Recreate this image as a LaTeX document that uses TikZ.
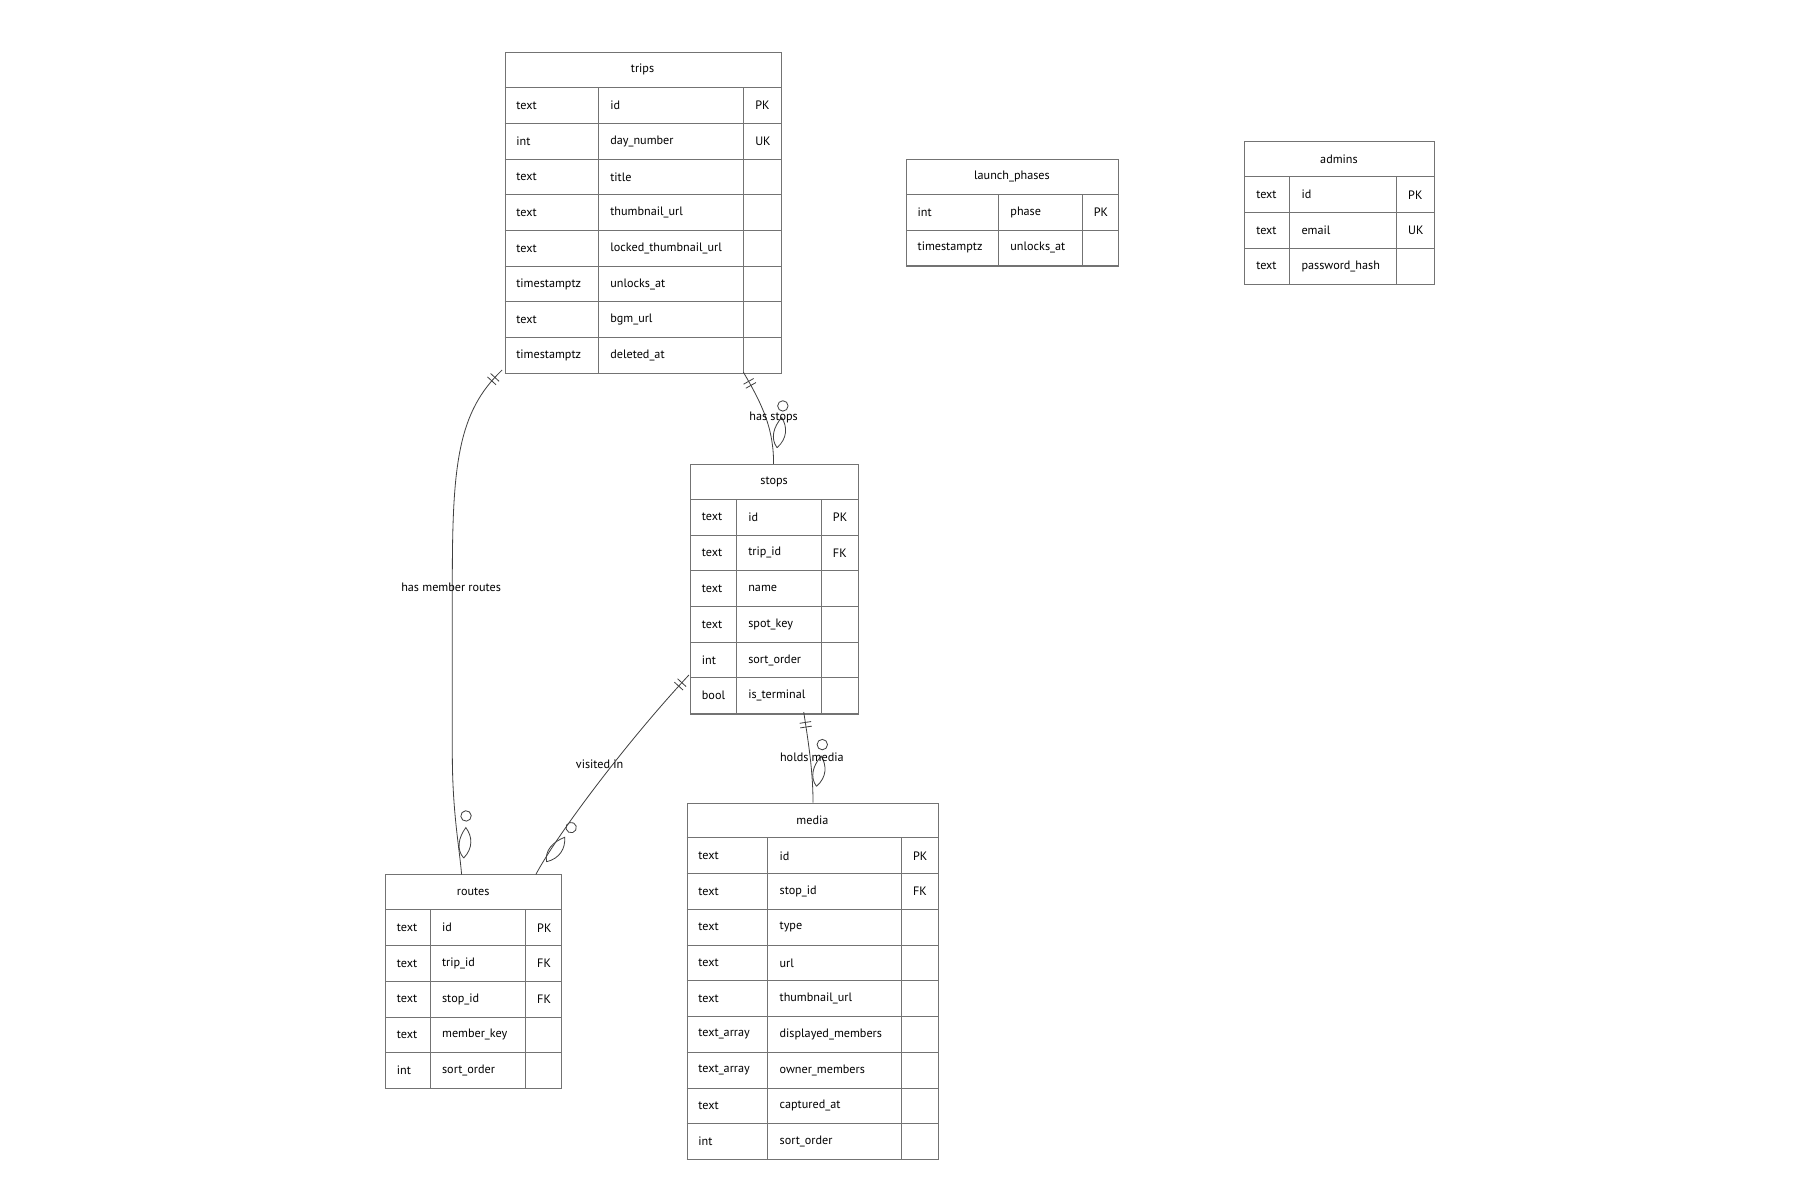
\documentclass[tikz,border=0pt]{standalone}
\usepackage{fontspec}
\setmainfont{PT Sans}
\usetikzlibrary{decorations.markings}
\tikzset{x=1pt,y=1pt,
 grid/.style={draw=black!55, line width=0.8pt},
 tblbox/.style={draw=black!55, line width=0.8pt, inner sep=0pt, fill=none},
 txt/.style={font=\fontsize{10.5}{12}\selectfont, inner sep=0pt},
 lbl/.style={font=\fontsize{10.5}{12}\selectfont, inner sep=1pt},
 rel/.style={draw=black!75, line width=0.7pt, postaction={decorate},
  decoration={markings,
   mark=at position 9pt with {\draw (0,-5)--(0,5); \draw (4,-5)--(4,5);},
   mark=at position 1 with {\draw (-14,3) .. controls (-22,12) and (-32,12) .. (-40,7) .. controls (-32,0) and (-22,-3) .. (-14,3);
     \draw (-50,8) circle (4.5);}}}
}
\newcommand\ertable[9]{%
 \pgfmathsetmacro\yb{#6+30.5+#9*30.8}
 \node[tblbox, minimum width={(#5-#2)*1pt}, minimum height={(\yb-#6)*1pt}, anchor=north west] (#1) at (#2,-#6) {};
 \node[txt] (#1-title) at ({(#2+#5)/2},{-#6-15.25}) {#7};
 \draw[grid] (#2,{-#6-30.5}) -- (#5,{-#6-30.5});
 \draw[grid] (#3,{-#6-30.5}) -- (#3,-\yb);
 \draw[grid] (#4,{-#6-30.5}) -- (#4,-\yb);
 \foreach \ty/\nm/\ky [count=\i] in {#8} {
   \pgfmathsetmacro\ya{#6+30.5+(\i-1)*30.8}
   \draw[grid] (#2,{-\ya-30.8}) -- (#5,{-\ya-30.8});
   \node[txt,anchor=west] at ({#2+10},{-\ya-15.4}) {\ty};
   \node[txt,anchor=west] at ({#3+10},{-\ya-15.4}) {\nm};
   \node[txt,anchor=west] at ({#4+10},{-\ya-15.4}) {\ky};
 }
}
\begin{document}
\begin{tikzpicture}
\useasboundingbox (0,0) rectangle (1552,-1035);
\ertable{trips}{435}{516}{641}{673}{45}{trips}{text/id/PK,int/day\_number/UK,text/title/,text/thumbnail\_url/,text/locked\_thumbnail\_url/,timestamptz/unlocks\_at/,text/bgm\_url/,timestamptz/deleted\_at/}{8}
\ertable{launch}{781}{861}{933}{964}{137}{launch\_phases}{int/phase/PK,timestamptz/unlocks\_at/}{2}
\ertable{admins}{1073}{1112}{1204}{1236}{122}{admins}{text/id/PK,text/email/UK,text/password\_hash/}{3}
\ertable{stops}{595}{635}{708}{740}{400}{stops}{text/id/PK,text/trip\_id/FK,text/name/,text/spot\_key/,int/sort\_order/,bool/is\_terminal/}{6}
\ertable{routes}{332}{371}{453}{484}{754}{routes}{text/id/PK,text/trip\_id/FK,text/stop\_id/FK,text/member\_key/,int/sort\_order/}{5}
\ertable{media}{592}{662}{777}{809}{692}{media}{text/id/PK,text/stop\_id/FK,text/type/,text/url/,text/thumbnail\_url/,text\_array/displayed\_members/,text\_array/owner\_members/,text/captured\_at/,int/sort\_order/}{9}

\coordinate (t1) at (433,-319);
\coordinate (r1) at (398,-754);
\coordinate (t2) at (641,-321);
\coordinate (s1) at (667,-400);
\coordinate (s2) at (594,-582);
\coordinate (r2) at (462,-754);
\coordinate (s3) at (693,-614);
\coordinate (m1) at (701,-692);

\draw[rel] (t1) .. controls (395,-355) and (390,-400) .. (390,-500) -- (390,-650) .. controls (390,-700) and (396,-730) .. (r1);
\draw[rel] (t2) .. controls (658,-350) and (667,-370) .. (s1);
\draw[rel] (s2) .. controls (540,-640) and (480,-720) .. (r2);
\draw[rel] (s3) .. controls (697,-640) and (701,-665) .. (m1);

\node[lbl] (l1) at (389,-506) {has member routes};
\node[lbl] (l2) at (667,-360) {has stops};
\node[lbl] (l3) at (517,-659) {visited in};
\node[lbl] (l4) at (700,-653) {holds media};
\end{tikzpicture}
\end{document}
